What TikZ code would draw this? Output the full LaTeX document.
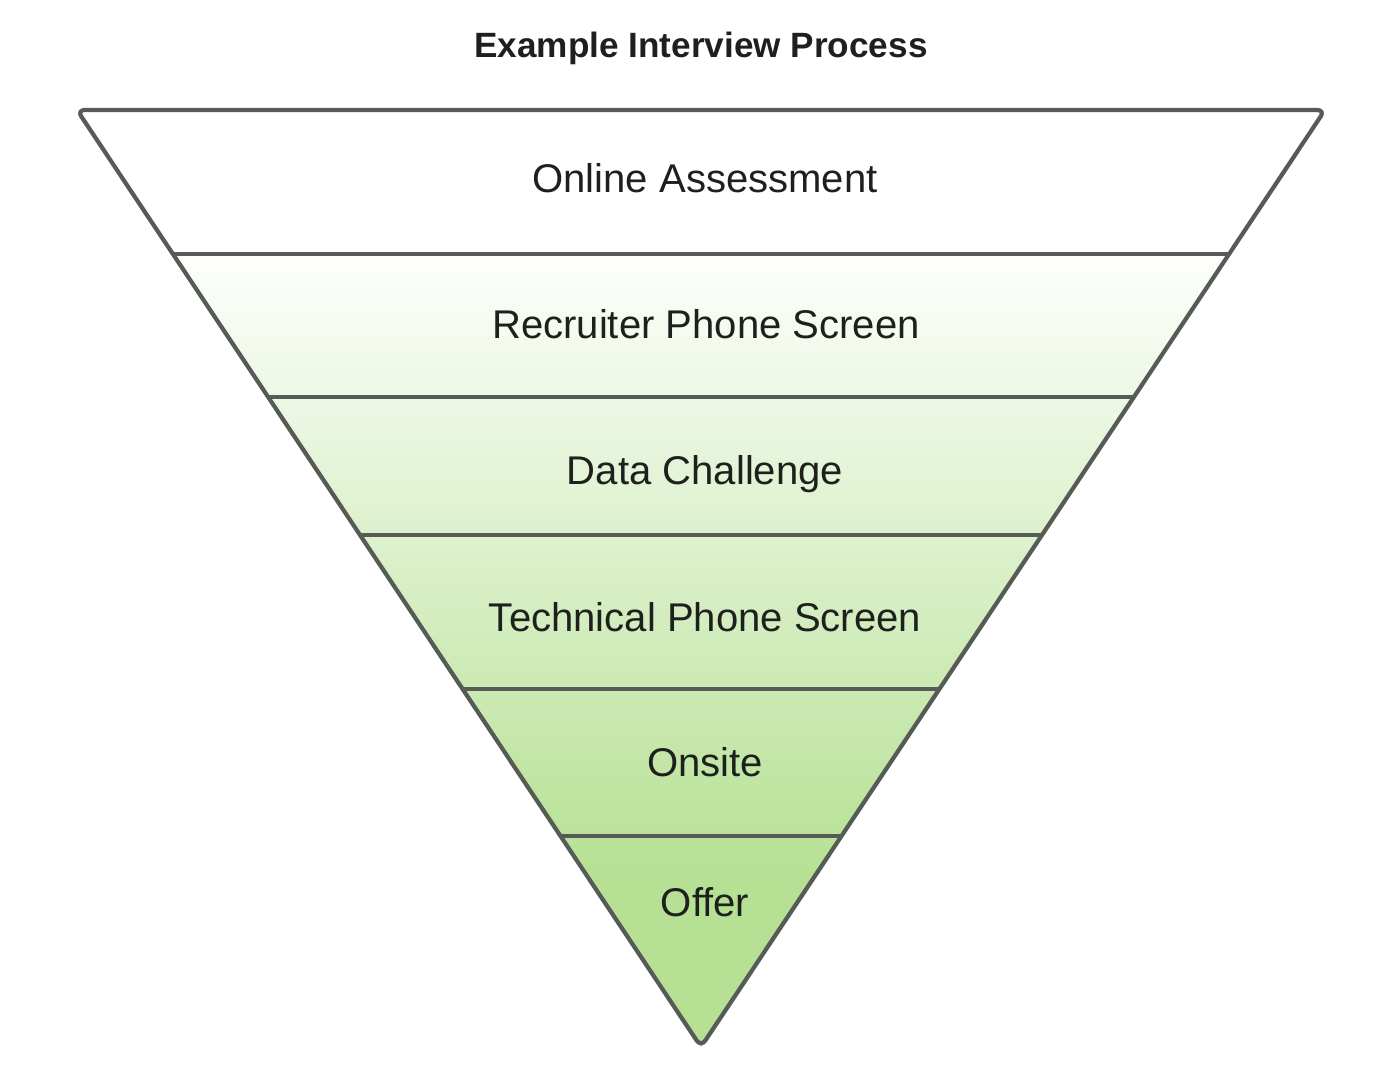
\documentclass[tikz,border=0pt]{standalone}
\usepackage{fontspec}
\setmainfont{Liberation Sans}
\usetikzlibrary{calc}
\definecolor{edgegray}{RGB}{87,91,86}
\definecolor{offergreen}{RGB}{182,225,148}
\definecolor{textblack}{RGB}{30,32,30}

\begin{document}
\begin{tikzpicture}[
  stage/.style={font=\fontsize{11.4}{13}\selectfont, text=textblack},
  band/.style={line width=1pt, color=edgegray},
  funnel/.style={line width=1.2pt, color=edgegray, rounded corners=2.2pt, line join=round}
]
\useasboundingbox (0,0) rectangle (14,10.84);
\coordinate (L) at (0.77, 9.74);
\coordinate (R) at (13.25, 9.74);
\coordinate (A) at (7.01, 0.37);

% shading inside the funnel
\begin{scope}
\clip (L) -- (R) -- (A) -- cycle;
\shade [top color=white, bottom color=offergreen] (0, 8.44) rectangle (14, 2.10);
\fill [offergreen] (0, 2.11) rectangle (14, 0);
\end{scope}

% band lines
\draw [band] ($(L)!0.1537!(A)$) -- ($(R)!0.1537!(A)$);
\draw [band] ($(L)!0.3063!(A)$) -- ($(R)!0.3063!(A)$);
\draw [band] ($(L)!0.4536!(A)$) -- ($(R)!0.4536!(A)$);
\draw [band] ($(L)!0.6180!(A)$) -- ($(R)!0.6180!(A)$);
\draw [band] ($(L)!0.7748!(A)$) -- ($(R)!0.7748!(A)$);

\draw [funnel] (L) -- (R) -- (A) -- cycle;

\node [font=\bfseries\fontsize{10}{12}\selectfont, text=textblack] (title) at (7.01, 10.36) {Example Interview Process};

\node [stage] (online) at (7.05, 9.06) {Online Assessment};
\node [stage] (recruiter) at (7.06, 7.60) {Recruiter Phone Screen};
\node [stage] (data) at (7.05, 6.10) {Data Challenge};
\node [stage] (technical) at (7.05, 4.67) {Technical Phone Screen};
\node [stage] (onsite) at (7.05, 3.22) {Onsite};
\node [stage] (offer) at (7.05, 1.82) {Offer};

\end{tikzpicture}
\end{document}
